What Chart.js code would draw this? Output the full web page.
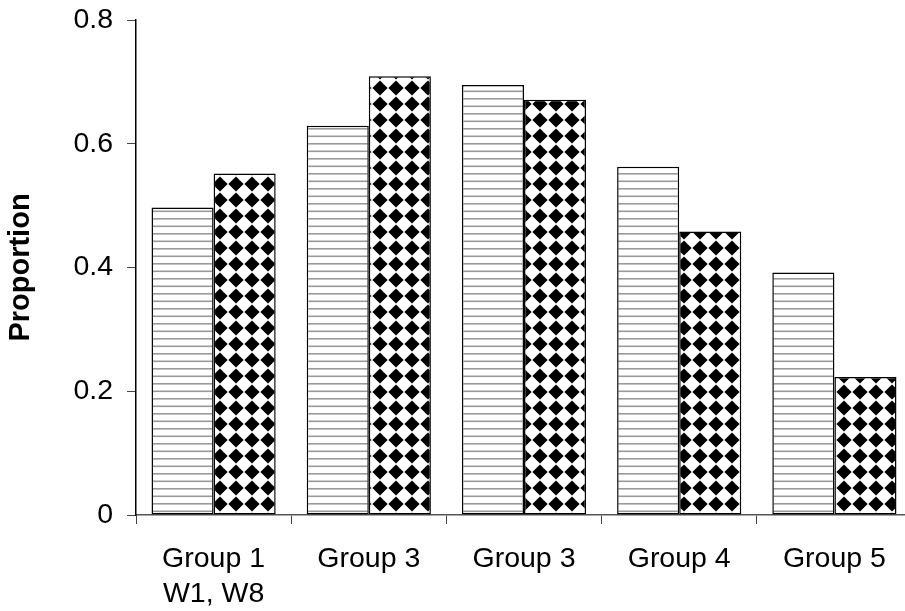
<!DOCTYPE html>
<html>
<head>
<meta charset="utf-8">
<script src="https://cdn.jsdelivr.net/npm/chart.js@4/dist/chart.umd.min.js"></script>
<style>
  html, body { margin: 0; padding: 0; background: #fff; overflow: hidden; }
  #wrap { width: 920px; height: 611px; }
</style>
</head>
<body>
<div id="wrap"><canvas id="myChart"></canvas></div>
<script>
// categories and series
const groupLabels = [["Group 1", "W1, W8"], "Group 3", "Group 3", "Group 4", "Group 5"];
const stripedValues = [0.497, 0.629, 0.695, 0.563, 0.392];
const diamondValues = [0.552, 0.709, 0.671, 0.458, 0.223];
const yTicks = [0, 0.2, 0.4, 0.6, 0.8];

// horizontal grey lines on white
function stripePattern() {
  const c = document.createElement('canvas');
  c.width = 8; c.height = 15;
  const g = c.getContext('2d');
  g.fillStyle = '#fff';
  g.fillRect(0, 0, 8, 15);
  g.fillStyle = '#9a9a9a';
  g.fillRect(0, 0.5, 8, 1.6);
  g.fillRect(0, 8, 8, 1.6);
  return g.createPattern(c, 'repeat');
}

// black diamonds on white
function diamondPattern() {
  const c = document.createElement('canvas');
  c.width = 16; c.height = 16;
  const g = c.getContext('2d');
  g.fillStyle = '#fff';
  g.fillRect(0, 0, 16, 16);
  g.fillStyle = '#000';
  const r = 7.6;
  [[12, 8], [-4, 8]].forEach(([cx, cy]) => {
    g.beginPath();
    g.moveTo(cx, cy - r);
    g.lineTo(cx + r, cy);
    g.lineTo(cx, cy + r);
    g.lineTo(cx - r, cy);
    g.closePath();
    g.fill();
  });
  return g.createPattern(c, 'repeat');
}

const font = "'Liberation Sans', Arial, sans-serif";

var ctx = document.getElementById('myChart').getContext('2d');
var myChart = new Chart(ctx, {
  type: 'bar',
  data: {
    labels: groupLabels,
    datasets: [{
      data: stripedValues,
      backgroundColor: stripePattern(),
      borderColor: '#000',
      borderWidth: 1.5,
      borderSkipped: false
    }, {
      data: diamondValues,
      backgroundColor: diamondPattern(),
      borderColor: '#000',
      borderWidth: 1.5,
      borderSkipped: false
    }]
  },
  options: {
    responsive: true,
    maintainAspectRatio: false,
    animation: false,
    devicePixelRatio: 1,
    layout: { padding: { top: 20, right: 8, left: 0, bottom: 0 } },
    plugins: { legend: { display: false }, tooltip: { enabled: false } },
    datasets: { bar: { categoryPercentage: 0.8, barPercentage: 1.0 } },
    scales: {
      x: {
        grid: { display: true, drawOnChartArea: false, offset: true, tickLength: 9, color: '#444' },
        border: { display: true, color: '#555', width: 1.5 },
        ticks: { color: '#000', padding: 17, maxRotation: 0, font: { family: font, size: 28.5, lineHeight: 1.25 } },
        afterFit: (scale) => { scale.height = 96; scale.paddingLeft = 0; scale.paddingRight = 0; }
      },
      y: {
        min: 0,
        max: 0.8,
        afterBuildTicks: (scale) => { scale.ticks = yTicks.map(v => ({ value: v })); },
        grid: { display: true, drawOnChartArea: false, tickLength: 9, color: '#444' },
        border: { display: true, color: '#000', width: 1.5 },
        ticks: {
          color: '#000', padding: 14,
          font: { family: font, size: 28.5 },
          callback: (v) => v === 0 ? '0' : v.toFixed(1)
        },
        title: {
          display: true,
          text: 'Proportion',
          color: '#000',
          padding: { top: 4, bottom: 0 },
          font: { family: font, size: 29, weight: 'bold' }
        },
        afterFit: (scale) => { scale.width = 136; scale.paddingTop = 0; scale.paddingBottom = 0; }
      }
    }
  }
});
</script>
</body>
</html>
